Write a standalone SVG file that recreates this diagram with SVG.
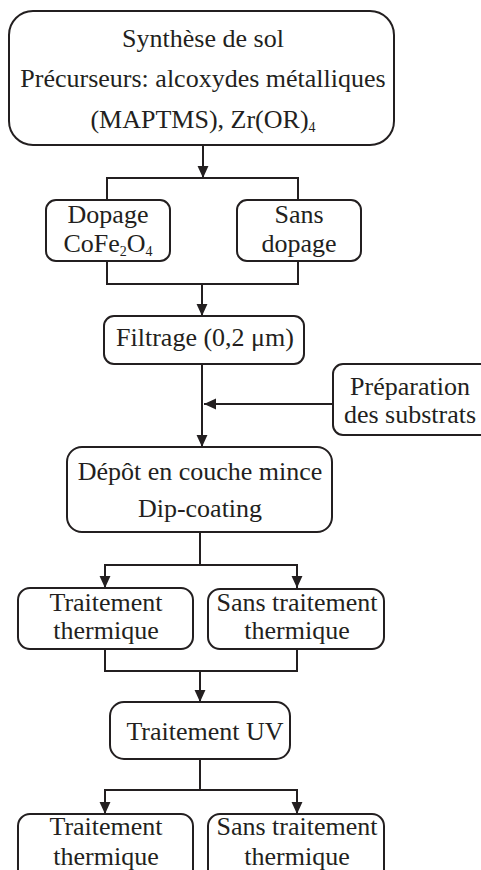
<svg xmlns="http://www.w3.org/2000/svg" width="481" height="870" viewBox="0 0 481 870">
<style>
.box{fill:#fff;stroke:#231f20;stroke-width:2}
.c{fill:none;stroke:#231f20;stroke-width:2}
text{font-family:"Liberation Serif","Times New Roman",serif;font-size:26px;fill:#231f20;text-anchor:middle}
.sub{font-size:14px}
</style>
<defs>
<marker id="ah" markerUnits="userSpaceOnUse" markerWidth="12" markerHeight="12" refX="11" refY="5" orient="auto" viewBox="0 0 11 10">
<path d="M0,0 L11,5 L0,10 z" fill="#231f20"/>
</marker>
</defs>
<rect width="481" height="870" fill="#fff"/>
<g id="connectors">
<path class="c" d="M203,145 V178" marker-end="url(#ah)"/>
<path class="c" d="M107,200 V178 H298 V200"/>
<path class="c" d="M107,261 V284 H298 V261"/>
<path class="c" d="M202,284 V316" marker-end="url(#ah)"/>
<path class="c" d="M202,364 V447" marker-end="url(#ah)"/>
<path class="c" d="M333,404 H204" marker-end="url(#ah)"/>
<path class="c" d="M200,532 V565"/>
<path class="c" d="M200,565 H105 V588" marker-end="url(#ah)"/>
<path class="c" d="M200,565 H297 V588" marker-end="url(#ah)"/>
<path class="c" d="M105,649 V671 H297 V649"/>
<path class="c" d="M200,671 V702" marker-end="url(#ah)"/>
<path class="c" d="M200,759 V790"/>
<path class="c" d="M200,790 H105 V814" marker-end="url(#ah)"/>
<path class="c" d="M200,790 H297 V814" marker-end="url(#ah)"/>
</g>
<g id="synthese">
<rect class="box" x="9" y="11" width="385" height="134" rx="24"/>
<text x="203" y="47">Synthèse de sol</text>
<text x="203" y="87">Précurseurs: alcoxydes métalliques</text>
<text x="203" y="128">(MAPTMS), Zr(OR)<tspan class="sub" dy="4">4</tspan></text>
</g>
<g id="dopage">
<rect class="box" x="46" y="200" width="124" height="61" rx="10"/>
<text x="108" y="223">Dopage</text>
<text x="108" y="252">CoFe<tspan class="sub" dy="4">2</tspan><tspan dy="-4">O</tspan><tspan class="sub" dy="4">4</tspan></text>
</g>
<g id="sans-dopage">
<rect class="box" x="237" y="200" width="124" height="61" rx="10"/>
<text x="299" y="223">Sans</text>
<text x="299" y="252">dopage</text>
</g>
<g id="filtrage">
<rect class="box" x="104" y="316" width="200" height="48" rx="10"/>
<text x="205" y="346">Filtrage (0,2 μm)</text>
</g>
<g id="preparation">
<rect class="box" x="333" y="364" width="170" height="71" rx="10"/>
<text x="410" y="395">Préparation</text>
<text x="410" y="423">des substrats</text>
</g>
<g id="depot">
<rect class="box" x="67" y="447" width="265" height="85" rx="15"/>
<text x="200" y="480">Dépôt en couche mince</text>
<text x="200" y="517">Dip-coating</text>
</g>
<g id="traitement-thermique-1">
<rect class="box" x="18" y="588" width="175" height="61" rx="12"/>
<text x="106" y="611">Traitement</text>
<text x="106" y="639">thermique</text>
</g>
<g id="sans-traitement-1">
<rect class="box" x="208" y="589" width="176" height="60" rx="12"/>
<text x="297" y="611">Sans traitement</text>
<text x="297" y="639">thermique</text>
</g>
<g id="traitement-uv">
<rect class="box" x="110" y="702" width="180" height="57" rx="14"/>
<text x="205" y="740">Traitement UV</text>
</g>
<g id="traitement-thermique-2">
<rect class="box" x="18" y="814" width="175" height="70" rx="12"/>
<text x="106" y="835">Traitement</text>
<text x="106" y="865">thermique</text>
</g>
<g id="sans-traitement-2">
<rect class="box" x="208" y="814" width="176" height="70" rx="12"/>
<text x="297" y="835">Sans traitement</text>
<text x="297" y="865">thermique</text>
</g>
</svg>
